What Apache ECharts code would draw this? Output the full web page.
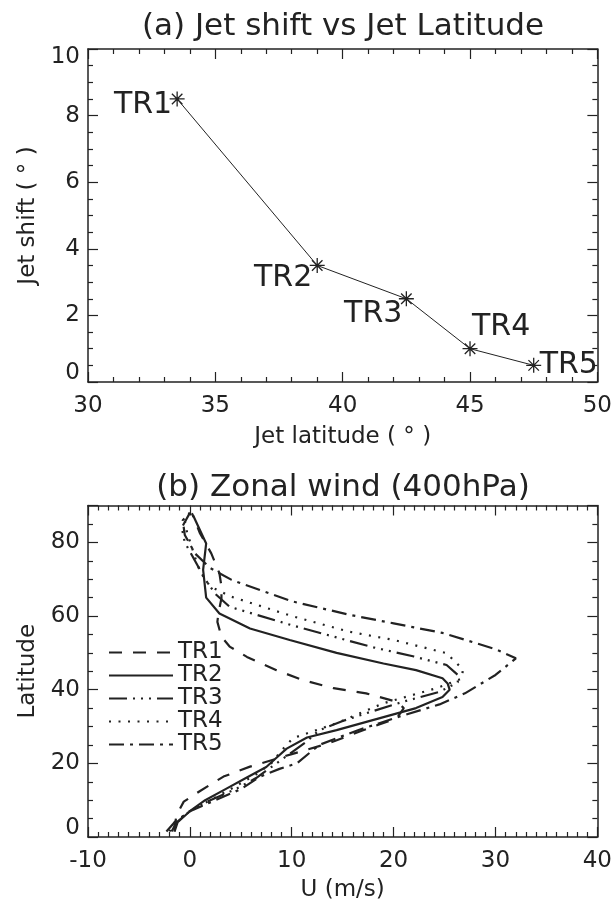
<!DOCTYPE html>
<html>
<head>
<meta charset="utf-8">
<script src="https://cdn.jsdelivr.net/npm/echarts@6/dist/echarts.min.js"></script>
<style>
  html, body { margin: 0; padding: 0; background: #fff; }
  #chart { width: 615px; height: 903px; }
</style>
</head>
<body>
<div id="chart"></div>
<script>
// (a) jet shift vs jet latitude
const runNames = ['TR1', 'TR2', 'TR3', 'TR4', 'TR5'];
const jetLatitude = [33.5, 39.0, 42.5, 45.0, 47.5];
const jetShift = [8.5, 3.5, 2.5, 1.0, 0.5];

// (b) zonal wind profiles, [U (m/s), latitude]
const windTR1 = [[-1.5,1.5],[-1.5,3],[-1.3,6],[-0.6,9.6],[1,12.5],[3.3,16.4],[5.9,19.1],[10,22.5],[13.7,25.5],[17,29],[20.3,32.2],[21,35],[20.3,36.7],[17.3,39],[14.1,40.4],[11.1,42.6],[8.5,45.3],[5.6,48.9],[3.9,51.7],[3.1,54.4],[2.7,58.4],[2.8,60.7],[3.1,64.8],[3.1,68],[2.9,71.6],[2.1,77],[1,82.4],[0.2,87.9]];
const windTR2 = [[-1.5,1.5],[-1.2,4],[0,7],[1.5,10],[3.5,13],[5.5,16],[7.5,19],[8.5,21.5],[9.5,24],[11.5,27],[14.4,29],[18.3,32],[22.2,35],[24.8,38],[25.5,40],[25.3,41.7],[24.8,43.1],[22.2,45.3],[19,47.1],[14.4,50],[9.8,53.5],[5.9,56.6],[2.9,60.7],[1.6,65],[1.3,72.5],[1.6,79.7],[0.3,87.4]];
const windTR3 = [[-1.8,1.5],[-1.3,4],[0,7],[2,10],[4.5,13],[6.5,16],[8.5,20],[10,23],[11.5,26],[12.7,29],[15,31.5],[17.3,33.6],[20.9,36.7],[24.5,39.4],[26.3,42],[26.3,44],[25.2,46.7],[22,49],[18,51.5],[15.7,53.2],[10,57.5],[3.9,62.5],[2.5,66],[1.5,70],[0.5,75],[-0.5,80],[-0.8,84],[0,88]];
const windTR4 = [[-2,1.5],[-1.5,4],[0,7],[2,10],[4,13],[6.5,17],[8,20],[9,23.5],[10.1,26.8],[14.4,30.9],[19,36.3],[24.2,40.4],[26.7,43],[26.8,45.5],[25.2,49.9],[20,53.5],[15.7,55.7],[10,60],[4.1,65.2],[2,68],[1,72],[0.5,76],[-0.3,82.9],[-0.5,86],[0,88]];
const windTR5 = [[-2.3,1.5],[-1.5,4],[0,7],[2.5,10],[5,13],[6.9,16.4],[8.8,18.5],[10.5,20],[12.7,25],[16.5,29],[20.6,32.7],[24.5,36],[27,39],[30,44],[32,48.5],[30,51],[24.8,55.4],[20,58],[15.7,60.3],[10,64],[4.1,69.8],[2,73],[0.5,77],[-0.5,82],[-0.7,86],[0,88]];

function setChart() {
  const chartDom = document.getElementById('chart');
  const myChart = echarts.init(chartDom, null, {renderer: 'canvas'});
  const ink = '#222';
  const font = 'DejaVu Sans';

  // labels next to each asterisk: [position, offset]
  const labelPlace = [
    ['left', [8, 6]],
    ['left', [8, 13]],
    ['left', [9, 15]],
    ['right', [-11, -21]],
    ['right', [-7, 0]]
  ];

  const asterisk = 'path://M0,-10L0,10M-10,0L10,0M-7,-7L7,7M-7,7L7,-7';

  // end labels of the vertical axes are nudged inside the frame
  const tickText = {color: ink, fontSize: 23, fontFamily: font};
  function endLabels(min, max) {
    return function (v) {
      if (v === min) return '{lo|' + v + '}';
      if (v === max) return '{hi|' + v + '}';
      return String(v);
    };
  }

  function boxAxis(pos, grid, min, max, interval, minorSplit, showLabel, name, nameGap) {
    const vertical = (pos === 'left' || pos === 'right');
    return {
      type: 'value',
      gridIndex: grid,
      position: pos,
      min: min,
      max: max,
      interval: interval,
      name: name || '',
      nameLocation: 'middle',
      nameGap: nameGap || 0,
      nameTextStyle: {color: ink, fontSize: 23, fontFamily: font},
      axisLine: {show: true, onZero: false, lineStyle: {color: ink, width: 1.5}},
      axisTick: {show: true, inside: true, length: 10, lineStyle: {color: ink, width: 1.2}},
      minorTick: {show: true, splitNumber: minorSplit, length: 5, lineStyle: {color: ink, width: 1.2}},
      splitLine: {show: false},
      minorSplitLine: {show: false},
      axisLabel: {
        show: showLabel, color: ink, fontSize: 23, fontFamily: font,
        showMaxLabel: (max % interval === 0),
        margin: (pos === 'bottom') ? 13 : 8,
        formatter: vertical ? endLabels(min, max) : null,
        rich: {
          lo: Object.assign({padding: [0, 0, 17, 0]}, tickText),
          hi: Object.assign({padding: [16, 0, 0, 0]}, tickText)
        }
      }
    };
  }

  const dashTypes = [
    [13, 11],
    'solid',
    [18, 6, 2, 6, 2, 6, 2, 6],
    [2, 7.5],
    [15, 6, 3, 6]
  ];
  const windData = [windTR1, windTR2, windTR3, windTR4, windTR5];

  const windSeries = windData.map((d, i) => ({
    name: runNames[i],
    type: 'line',
    xAxisIndex: 2,
    yAxisIndex: 2,
    data: d,
    symbol: 'none',
    smooth: false,
    clip: true,
    lineStyle: {color: ink, width: 2.2, type: dashTypes[i]},
    itemStyle: {color: ink}
  }));

  const option = {
    backgroundColor: '#fff',
    animation: false,
    title: [
      {text: '(a) Jet shift vs Jet Latitude', left: 343, top: 11, textAlign: 'center',
        padding: 0, textStyle: {color: ink, fontSize: 31, fontWeight: 'normal', fontFamily: font}},
      {text: '(b) Zonal wind (400hPa)', left: 343, top: 472, textAlign: 'center',
        padding: 0, textStyle: {color: ink, fontSize: 31, fontWeight: 'normal', fontFamily: font}}
    ],
    legend: {
      data: runNames,
      orient: 'vertical',
      left: 108,
      top: 641,
      itemWidth: 64,
      itemHeight: 12,
      itemGap: 0,
      padding: 0,
      itemStyle: {color: 'rgba(0,0,0,0)', borderWidth: 0},
      textStyle: {color: ink, fontSize: 23, fontFamily: font, lineHeight: 21},
      selectedMode: false
    },
    grid: [
      {left: 88, right: 17, top: 49, height: 333},
      {left: 88, right: 17, top: 505.5, height: 331.5}
    ],
    xAxis: [
      boxAxis('bottom', 0, 30, 50, 5, 5, true, 'Jet latitude ( \u00b0 )', 44),
      boxAxis('top', 0, 30, 50, 5, 5, false),
      boxAxis('bottom', 1, -10, 40, 10, 10, true, 'U (m/s)', 42),
      boxAxis('top', 1, -10, 40, 10, 10, false)
    ],
    yAxis: [
      boxAxis('left', 0, 0, 10, 2, 4, true, 'Jet shift ( \u00b0 )', 46),
      boxAxis('right', 0, 0, 10, 2, 4, false),
      boxAxis('left', 1, 0, 90, 20, 4, true, 'Latitude', 46),
      boxAxis('right', 1, 0, 90, 20, 4, false)
    ],
    series: [
      {
        type: 'line',
        xAxisIndex: 0,
        yAxisIndex: 0,
        data: jetLatitude.map((x, i) => ({
          value: [x, jetShift[i]],
          label: {
            show: true,
            formatter: runNames[i],
            position: labelPlace[i][0],
            offset: labelPlace[i][1],
            distance: 3,
            color: ink,
            fontSize: 30,
            fontFamily: font
          }
        })),
        symbol: asterisk,
        symbolSize: 15,
        itemStyle: {color: 'none', borderColor: ink, borderWidth: 1.3},
        lineStyle: {color: ink, width: 1},
        clip: false
      },
      ...windSeries
    ]
  };

  option && myChart.setOption(option);
}

setChart();
</script>
</body>
</html>
